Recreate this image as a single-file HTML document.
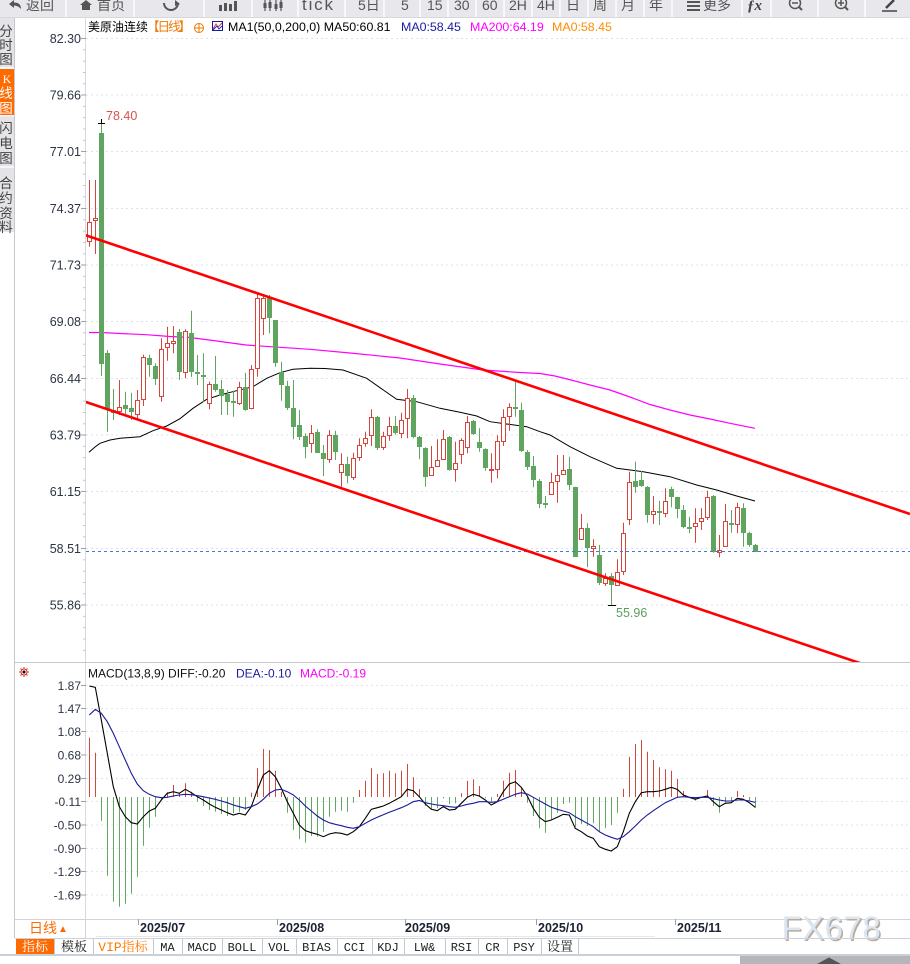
<!DOCTYPE html>
<html><head><meta charset="utf-8">
<style>
html,body{margin:0;padding:0;background:#fff;width:910px;height:964px;overflow:hidden}
svg{display:block}
text{font-family:"Liberation Sans","Noto Sans CJK SC",sans-serif}
.tb{font-size:14px;fill:#555}
.yl{font-size:12.5px;fill:#2c3444;text-anchor:end}
.ml{font-size:12px;fill:#2c3444;text-anchor:end}
.sb{font-size:13.5px;fill:#444;text-anchor:middle}
.dt{font-size:12.5px;font-weight:bold;fill:#1c2233}
.tab{font-family:"Liberation Mono","Noto Serif CJK SC",monospace;font-size:12px;fill:#222;text-anchor:middle}
</style></head>
<body>
<svg id="s" width="910" height="964" viewBox="0 0 910 964" xmlns="http://www.w3.org/2000/svg">
<defs><clipPath id="mc"><rect x="86" y="17" width="824" height="645"/></clipPath></defs>
<rect width="910" height="964" fill="#fff"/>

<!-- toolbar -->
<rect x="0" y="0" width="910" height="17" fill="#e8e8ec"/>
<line x1="0" y1="17.5" x2="910" y2="17.5" stroke="#d8d8dc"/>
<g fill="#f8f8fa">
<rect x="65" y="0" width="2" height="17"/><rect x="133" y="0" width="2" height="17"/><rect x="203" y="0" width="2" height="17"/><rect x="251" y="0" width="2" height="17"/><rect x="297" y="0" width="2" height="17"/><rect x="344" y="0" width="2" height="17"/><rect x="383" y="0" width="2" height="17"/><rect x="419" y="0" width="2" height="17"/><rect x="447" y="0" width="2" height="17"/><rect x="475" y="0" width="2" height="17"/><rect x="503" y="0" width="2" height="17"/><rect x="531" y="0" width="2" height="17"/><rect x="559" y="0" width="2" height="17"/><rect x="587" y="0" width="2" height="17"/><rect x="615" y="0" width="2" height="17"/><rect x="643" y="0" width="2" height="17"/><rect x="671" y="0" width="2" height="17"/><rect x="741" y="0" width="2" height="17"/><rect x="770" y="0" width="2" height="17"/><rect x="817" y="0" width="2" height="17"/><rect x="864" y="0" width="2" height="17"/>
</g>
<!-- toolbar icons -->
<path d="M9 4 L14 0 L14 2.5 Q21 2.5 21 9 Q18 5.5 14 5.5 L14 8 Z" fill="#555"/>
<path d="M80 5 L86 0 L92 5 L90 5 L90 10 L82 10 L82 5 Z" fill="#555"/>
<path d="M164 3 A7 7 0 1 0 178 3" fill="none" stroke="#555" stroke-width="2"/>
<path d="M175 0 L180 4 L175 6 Z" fill="#555"/>
<g fill="#555"><rect x="219" y="5" width="3" height="6"/><rect x="224" y="3" width="3" height="8"/><rect x="229" y="4" width="3" height="7"/><rect x="234" y="1" width="3" height="10"/></g>
<g stroke="#555" stroke-width="1.2"><line x1="265" y1="0" x2="265" y2="11"/><line x1="270" y1="0" x2="270" y2="11"/><line x1="276" y1="0" x2="276" y2="11"/><line x1="281" y1="0" x2="281" y2="11"/></g>
<g fill="#555"><rect x="263.5" y="3" width="3" height="5"/><rect x="268.5" y="2" width="3" height="6"/><rect x="274.5" y="4" width="3" height="5"/><rect x="279.5" y="2" width="3" height="6"/></g>
<text class="tb" x="26" y="10">返回</text>
<text class="tb" x="97" y="10">首页</text>
<text class="tb" x="302" y="10" style="font-size:17px" textLength="31">tick</text>
<text class="tb" x="358" y="10">5日</text>
<text class="tb" x="401" y="10">5</text>
<text class="tb" x="427" y="10">15</text>
<text class="tb" x="454" y="10">30</text>
<text class="tb" x="482" y="10">60</text>
<text class="tb" x="509" y="10">2H</text>
<text class="tb" x="537" y="10">4H</text>
<text class="tb" x="566" y="10">日</text>
<text class="tb" x="593" y="10">周</text>
<text class="tb" x="621" y="10">月</text>
<text class="tb" x="649" y="10">年</text>
<g fill="#555"><rect x="687" y="1" width="13" height="2"/><rect x="687" y="5" width="13" height="2"/><rect x="687" y="9" width="13" height="2"/></g>
<text class="tb" x="703" y="10">更多</text>
<text x="747" y="10" style="font-size:15px;font-weight:bold;font-style:italic;fill:#444;font-family:'Liberation Serif',serif">ƒx</text>
<circle cx="795" cy="3" r="5.5" fill="none" stroke="#555" stroke-width="1.5"/><line x1="792" y1="3" x2="798" y2="3" stroke="#555" stroke-width="1.5"/><line x1="799" y1="7" x2="802" y2="10" stroke="#555" stroke-width="2"/>
<circle cx="841" cy="3" r="5.5" fill="none" stroke="#555" stroke-width="1.5"/><line x1="838" y1="3" x2="844" y2="3" stroke="#555" stroke-width="1.5"/><line x1="841" y1="0" x2="841" y2="6" stroke="#555" stroke-width="1.5"/><line x1="845" y1="7" x2="848" y2="10" stroke="#555" stroke-width="2"/>
<line x1="886" y1="8" x2="894" y2="0" stroke="#444" stroke-width="2.5"/><line x1="882" y1="11" x2="897" y2="11" stroke="#444" stroke-width="1.5"/>

<!-- left sidebar -->
<rect x="0" y="18" width="14" height="214" fill="#e4e4e8"/>
<rect x="0" y="69" width="14" height="46" fill="#ff6a00"/>
<g fill="#f6f6f8"><rect x="0" y="67" width="14" height="2"/><rect x="0" y="115" width="14" height="1.5"/><rect x="0" y="166" width="14" height="2"/></g>
<line x1="14.5" y1="18" x2="14.5" y2="938" stroke="#c8c8cc"/>
<text class="sb" x="6" y="36">分</text><text class="sb" x="6" y="50">时</text><text class="sb" x="6" y="64">图</text>
<text class="sb" x="7" y="83" style="fill:#fff;font-family:'Liberation Serif',serif;font-size:12px">K</text><text class="sb" x="6" y="98" style="fill:#fff">线</text><text class="sb" x="6" y="113" style="fill:#fff">图</text>
<text class="sb" x="6" y="133">闪</text><text class="sb" x="6" y="148">电</text><text class="sb" x="6" y="163">图</text>
<text class="sb" x="6" y="188">合</text><text class="sb" x="6" y="203">约</text><text class="sb" x="6" y="218">资</text><text class="sb" x="6" y="232">料</text>

<!-- axis line -->
<line x1="85.5" y1="18" x2="85.5" y2="919" stroke="#d6dae2"/>

<!-- main grid -->
<g stroke="#dfe1e8" stroke-dasharray="2,3">
<line x1="86" y1="38.5" x2="910" y2="38.5"/><line x1="86" y1="95" x2="910" y2="95"/><line x1="86" y1="151.5" x2="910" y2="151.5"/><line x1="86" y1="208.5" x2="910" y2="208.5"/><line x1="86" y1="265" x2="910" y2="265"/><line x1="86" y1="321.5" x2="910" y2="321.5"/><line x1="86" y1="378.5" x2="910" y2="378.5"/><line x1="86" y1="435" x2="910" y2="435"/><line x1="86" y1="491.5" x2="910" y2="491.5"/><line x1="86" y1="548.5" x2="910" y2="548.5"/><line x1="86" y1="605" x2="910" y2="605"/>
</g>
<g id="ticks" stroke="#9aa0ac"></g>
<g>
<text class="yl" x="81" y="43">82.30</text><text class="yl" x="81" y="99.5">79.66</text><text class="yl" x="81" y="156">77.01</text><text class="yl" x="81" y="213">74.37</text><text class="yl" x="81" y="269.5">71.73</text><text class="yl" x="81" y="326">69.08</text><text class="yl" x="81" y="383">66.44</text><text class="yl" x="81" y="439.5">63.79</text><text class="yl" x="81" y="496">61.15</text><text class="yl" x="81" y="553">58.51</text><text class="yl" x="81" y="609.5">55.86</text>
</g>

<!-- header -->
<text x="88" y="31" style="font-size:12px;fill:#000">美原油连续</text>
<text x="147" y="31" style="font-size:12.5px;fill:#f07800" textLength="44">【日线】</text>
<circle cx="199" cy="28" r="4.5" fill="none" stroke="#f07800"/><line x1="194.5" y1="28" x2="203.5" y2="28" stroke="#f07800"/><line x1="199" y1="23.5" x2="199" y2="32.5" stroke="#f07800"/>
<rect x="212.5" y="21.5" width="10" height="9" fill="#fff" stroke="#1a1aa0"/><path d="M213 29 L216 24 L218 27 L222 23" fill="none" stroke="#e03030"/><path d="M213 30 L217 26 L219 29 L222 26" fill="none" stroke="#2030c0"/>
<text x="228" y="31" style="font-size:12.4px;fill:#000">MA1(50,0,200,0)  MA50:60.81</text>
<text x="401" y="31" style="font-size:12.4px;fill:#1a1aa0">MA0:58.45</text>
<text x="470" y="31" style="font-size:12.4px;fill:#ff00ff">MA200:64.19</text>
<text x="552" y="31" style="font-size:12.4px;fill:#ff8c00">MA0:58.45</text>

<g clip-path="url(#mc)">
<polyline fill="none" stroke="#ff00ff" stroke-width="1.2" points="89,332.5 101,332.5 120,333.5 146,334.7 170,336.5 190,337.5 213,340.5 246,345 280,347.3 310,349.3 350,353 400,358 440,364 483,370 520,372.5 540,373.5 555,376 571,380 590,385 610,390 630,397 650,404.5 670,410 690,415 710,419 730,423.3 755,428.3"/>
<polyline fill="none" stroke="#000" stroke-width="1" points="89,452.3 95,447 100,443.3 110,440 120,438.3 140,436.7 153,430.7 166.7,426 180,418.7 193,408.3 206.7,399.3 220,395 236.7,390.7 253,386.7 266.7,378.3 280,372.7 293,369.3 310,368.3 325,368.5 343,370 366.7,378.3 383.3,390 396.7,399.3 416.7,401.7 440,408.3 460,412.3 476.7,416 490,421.7 506.7,424 526.7,426.7 540,431.7 550,435 570,446.7 590,456.7 616.7,468.3 643.3,471.7 670,476.7 696.7,485 716.7,490 736.7,496 755,501"/>
<g id="cand"></g>
<line x1="86" y1="551.5" x2="910" y2="551.5" stroke="#3b7dd8" stroke-dasharray="3,3"/>
<line x1="85" y1="235" x2="910" y2="514" stroke="#ff0000" stroke-width="2.6"/>
<line x1="85" y1="401.7" x2="870" y2="666.5" stroke="#ff0000" stroke-width="2.6"/>
</g>
<line x1="98" y1="123.5" x2="105" y2="123.5" stroke="#000"/><line x1="101.5" y1="119" x2="101.5" y2="124" stroke="#000"/>
<line x1="608" y1="605.5" x2="616" y2="605.5" stroke="#000"/>
<text x="106" y="120" style="font-size:12.5px;fill:#d9534f">78.40</text>
<text x="616" y="617" style="font-size:12.5px;fill:#5a9e5a">55.96</text>

<!-- MACD pane -->
<line x1="15" y1="662.5" x2="910" y2="662.5" stroke="#c8c8cc"/>
<g stroke="#e03020" stroke-width="1"><line x1="19" y1="672" x2="29" y2="672"/><line x1="24" y1="667" x2="24" y2="677"/><line x1="20.5" y1="668.5" x2="27.5" y2="675.5"/><line x1="27.5" y1="668.5" x2="20.5" y2="675.5"/></g>
<circle cx="24" cy="672" r="3" fill="#fff" stroke="#e03020"/><circle cx="24" cy="672" r="1.5" fill="#000"/>
<text x="88" y="677.5" style="font-size:12px;fill:#111">MACD(13,8,9) DIFF:-0.20</text>
<text x="236" y="677.5" style="font-size:12px;fill:#1a1aa0">DEA:-0.10</text>
<text x="300" y="677.5" style="font-size:12px;fill:#ff00ff">MACD:-0.19</text>
<g stroke="#e3e5ea" stroke-dasharray="2,3">
<line x1="86" y1="685.5" x2="910" y2="685.5"/><line x1="86" y1="708.5" x2="910" y2="708.5"/><line x1="86" y1="731.5" x2="910" y2="731.5"/><line x1="86" y1="755" x2="910" y2="755"/><line x1="86" y1="778.5" x2="910" y2="778.5"/><line x1="86" y1="801.5" x2="910" y2="801.5"/><line x1="86" y1="825" x2="910" y2="825"/><line x1="86" y1="848.5" x2="910" y2="848.5"/><line x1="86" y1="871.5" x2="910" y2="871.5"/><line x1="86" y1="895" x2="910" y2="895"/>
</g>
<g>
<text class="ml" x="81" y="690">1.87</text><text class="ml" x="81" y="713">1.47</text><text class="ml" x="81" y="736">1.08</text><text class="ml" x="81" y="759.5">0.68</text><text class="ml" x="81" y="783">0.29</text><text class="ml" x="81" y="806">-0.11</text><text class="ml" x="81" y="829.5">-0.50</text><text class="ml" x="81" y="853">-0.90</text><text class="ml" x="81" y="876">-1.29</text><text class="ml" x="81" y="899.5">-1.69</text>
</g>
<g id="hist"></g>
<polyline fill="none" stroke="#000" stroke-width="1.1" points="89.3,686 95.3,687.3 101.3,720 107.3,753.3 113.3,786.7 119.3,806.7 125.3,816.7 131.3,822.7 137.3,824 143.3,816.7 149.3,811 155.3,808.3 161.3,800 167.3,793.3 173.3,791.7 179.3,793.3 185.3,789.3 191.3,792.7 197.3,796.7 203.3,800 209.3,804 215.3,807.3 221.3,810 227.3,812.7 233.3,815 239.3,813.3 245.3,815 251.3,806.7 257.3,790 263.3,775 269.3,770.7 275.3,776.7 281.3,788.3 287.3,801.7 293.3,813.3 299.3,825 305.3,830.7 311.3,832.7 317.3,834.3 323.3,836.7 329.3,834 335.3,832.7 341.3,833.3 347.3,835 353.3,831.7 359.3,826.7 365.3,818.3 371.3,809.3 377.3,807.7 383.3,806 389.3,803.3 395.3,800 401.3,796.7 407.3,789.3 413.3,790.7 419.3,796.7 425.3,804 431.3,809.3 437.3,810.7 443.3,806.7 449.3,810 455.3,809.3 461.3,803.3 467.3,797.3 473.3,794.3 479.3,796 485.3,800 491.3,805 497.3,801.7 503.3,791.7 509.3,784 515.3,781.7 521.3,787.3 527.3,796 533.3,808.3 539.3,817.3 545.3,821.7 551.3,820 557.3,817.3 563.3,814.3 569.3,815 575.3,828.3 581.3,831.7 587.3,836 593.3,838.3 599.3,846.7 605.3,849.3 611.3,851 617.3,846.7 623.3,831.7 629.3,813.3 635.3,801.7 641.3,792.7 647.3,791.7 653.3,791.7 659.3,791 665.3,789.3 671.3,787.3 677.3,789.3 683.3,795 689.3,797.3 695.3,799.3 701.3,797.3 707.3,796 713.3,801.7 719.3,806.7 725.3,803.3 731.3,802.7 737.3,798.3 743.3,799.3 749.3,802.7 755.3,807.3"/>
<polyline fill="none" stroke="#1a1a9c" stroke-width="1.1" points="89.3,715 95.3,709.3 101.3,713.3 107.3,721.7 113.3,733.3 119.3,746.7 125.3,760 131.3,773.3 137.3,784 143.3,790.7 149.3,794.3 155.3,796.7 161.3,797.7 167.3,797.3 173.3,796 179.3,795 185.3,794.3 191.3,794.7 197.3,795.7 203.3,796.7 209.3,798 215.3,799.3 221.3,801 227.3,802.7 233.3,805 239.3,806.7 245.3,808.3 251.3,806.7 257.3,804 263.3,799.3 269.3,793.3 275.3,790 281.3,789.3 287.3,791.7 293.3,795 299.3,800 305.3,806 311.3,811 317.3,816 323.3,820 329.3,822.7 335.3,824.3 341.3,825.7 347.3,827.3 353.3,828.3 359.3,826.7 365.3,823.3 371.3,820 377.3,817.3 383.3,814.7 389.3,812.3 395.3,810 401.3,807.7 407.3,805 413.3,801.7 419.3,800.5 425.3,802.7 431.3,804 437.3,805 443.3,805.7 449.3,806.7 455.3,807.3 461.3,806 467.3,804.3 473.3,803.3 479.3,801.7 485.3,801.7 491.3,802.3 497.3,801.7 503.3,799.3 509.3,796.7 515.3,794.3 521.3,792.7 527.3,794 533.3,797.3 539.3,800.7 545.3,804 551.3,807.3 557.3,809.3 563.3,811 569.3,812.7 575.3,816.7 581.3,820 587.3,823.3 593.3,826.7 599.3,831.7 605.3,835 611.3,837.3 617.3,839.3 623.3,836.7 629.3,831.7 635.3,826 641.3,820 647.3,815 653.3,810.7 659.3,806.7 665.3,802.7 671.3,800 677.3,797.3 683.3,796.7 689.3,797.3 695.3,797.7 701.3,797.3 707.3,797.3 713.3,798.7 719.3,800 725.3,801 731.3,801 737.3,800 743.3,800 749.3,801 755.3,802.3"/>

<!-- date row -->
<line x1="15" y1="919.5" x2="910" y2="919.5" stroke="#d0d4da"/>
<line x1="85.5" y1="919" x2="85.5" y2="938" stroke="#d0d4da"/>
<line x1="96" y1="936.5" x2="655" y2="936.5" stroke="#e6e8ec"/>
<g stroke="#9aa0aa"><line x1="138.5" y1="919" x2="138.5" y2="925"/><line x1="277.5" y1="919" x2="277.5" y2="925"/><line x1="405.5" y1="919" x2="405.5" y2="925"/><line x1="536.5" y1="919" x2="536.5" y2="925"/><line x1="675.5" y1="919" x2="675.5" y2="925"/></g>
<text x="29" y="933" style="font-size:14px;fill:#ff6a00">日线</text>
<text x="58" y="932" style="font-size:10px;fill:#ff6a00">▲</text>
<text class="dt" x="140" y="932">2025/07</text>
<text class="dt" x="279" y="932">2025/08</text>
<text class="dt" x="405" y="932">2025/09</text>
<text class="dt" x="538" y="932">2025/10</text>
<text class="dt" x="677" y="932">2025/11</text>
<text x="783" y="941" style="font-size:33px;fill:#b9aa9c;letter-spacing:0.5px">FX678</text>
<text x="781.5" y="939.5" style="font-size:33px;fill:#dbe6f3;letter-spacing:0.5px">FX678</text>

<!-- tab row -->
<line x1="15" y1="938.5" x2="910" y2="938.5" stroke="#ccd2da"/>
<rect x="16" y="939" width="38" height="15" fill="#ff6a00"/>
<g stroke="#c8c8cc"><line x1="54.5" y1="939" x2="54.5" y2="954"/><line x1="93.5" y1="939" x2="93.5" y2="954"/><line x1="153.5" y1="939" x2="153.5" y2="954"/><line x1="182.5" y1="939" x2="182.5" y2="954"/><line x1="222.5" y1="939" x2="222.5" y2="954"/><line x1="262.5" y1="939" x2="262.5" y2="954"/><line x1="296.5" y1="939" x2="296.5" y2="954"/><line x1="337.5" y1="939" x2="337.5" y2="954"/><line x1="372.5" y1="939" x2="372.5" y2="954"/><line x1="404.5" y1="939" x2="404.5" y2="954"/><line x1="445.5" y1="939" x2="445.5" y2="954"/><line x1="478.5" y1="939" x2="478.5" y2="954"/><line x1="507.5" y1="939" x2="507.5" y2="954"/><line x1="541.5" y1="939" x2="541.5" y2="954"/><line x1="578.5" y1="939" x2="578.5" y2="954"/></g>
<text class="tab" x="35" y="951" style="fill:#fff;font-size:13px">指标</text>
<text class="tab" x="74" y="951" style="font-size:13px">模板</text>
<text class="tab" x="123" y="951" style="fill:#ff7a00;font-size:13px">VIP指标</text>
<text class="tab" x="167.5" y="951">MA</text>
<text class="tab" x="202" y="951">MACD</text>
<text class="tab" x="242" y="951">BOLL</text>
<text class="tab" x="279" y="951">VOL</text>
<text class="tab" x="316.5" y="951">BIAS</text>
<text class="tab" x="354.5" y="951">CCI</text>
<text class="tab" x="388" y="951">KDJ</text>
<text class="tab" x="424.5" y="951">LW&amp;</text>
<text class="tab" x="461.5" y="951">RSI</text>
<text class="tab" x="492.5" y="951">CR</text>
<text class="tab" x="524" y="951">PSY</text>
<text class="tab" x="560" y="951" style="font-size:13px">设置</text>
<rect x="0" y="954" width="910" height="2" fill="#c8d0da"/>
<rect x="740" y="956" width="170" height="8" fill="#b6b6ba"/>
<path d="M817 964 L829 957.5 L841 964 Z" fill="#555"/>
</svg>
<script>
(function(){
var NS='http://www.w3.org/2000/svg';
var C=[[1,221.7,240.7,180,246.7],[1,217.7,220.3,180,254],[0,132.7,364,123,376],[0,353,410,350,431.7],[0,410,413,389,420],[1,407.3,411.3,380,415],[0,405,409.3,391.7,415],[0,408,411.7,392.7,420],[1,400.3,414.3,390,420],[1,357.3,399.3,354.7,406],
[0,358,364.7,354.7,376.7],[0,366,379.3,363.3,385],[1,349.3,396.3,338.3,401.7],[1,343.3,347.3,326.7,360.7],[1,341.3,342.7,326,353.3],[0,331.7,371.7,329,380],[1,331,371.7,329.3,378.3],[0,332.7,371.7,310.7,377],[0,372.3,373.7,355,385],[0,375,376.7,353.3,401.7],
[1,384,403.3,381.7,409.3],[0,384,390,356,391.7],[0,389.3,396,380,415],[0,394.3,401.7,390,415],[0,401,402.7,390.7,416.7],[1,387.3,402.7,381.7,405],[0,387.3,410,372.7,410.7],[1,369.3,407.7,365,409.3],[1,298.3,367.7,293.3,376.7],[1,298.3,318.3,295,335],
[0,296.7,317.7,295,333.3],[0,320,362.7,320,366.7],[0,371.7,385,361.7,400.7],[0,386,408.3,380.7,410],[0,408.3,426.7,380,439.3],[0,425,436.7,410,440],[0,436,446.7,433.3,458.3],[1,433.3,443.3,425,452.7],[0,432,452.7,429.3,452.7],[0,453.3,459.3,445,476],
[1,435.3,459.3,430,462.7],[0,435.3,451.7,430.7,460],[1,464.3,471.7,453.3,486.7],[0,464.3,476,456.7,483.3],[1,458.3,476.7,452.7,480],[1,444.7,457.3,438.3,460.7],[1,438.3,443.3,431.7,446.7],[1,417.3,435.3,409.3,446],[0,416.7,448.3,416,450],[1,436,447.3,431.7,450],
[1,426,435.3,416.7,440.7],[0,426,433.3,416,434.7],[1,420,433.3,412.7,438.3],[1,398.3,418.3,389,438.3],[0,398.3,437.3,395,438.3],[0,437.3,446.7,436,459.3],[0,448.3,476.7,447.3,486.7],[1,466.7,475.3,446,476],[1,460,466,439.3,466.7],[1,439.3,459.3,430,460],
[0,437.3,470,436,470.7],[1,463.3,469.3,441.7,481.7],[1,440,454,438.3,464],[1,421.7,447.3,416,453.3],[0,420.7,434,420,435],[0,442,448,428.3,451.7],[0,449.3,468.3,448.3,470.7],[1,469,469.7,453.3,482.7],[1,441.3,468.7,435.3,478.3],[1,416.7,440.7,409.3,446],
[1,407.3,415.7,403.3,430.7],[0,406.5,407.5,381.7,416.7],[0,410,450.7,402.7,452],[0,452,466.7,450,470],[0,466,480,456,487.3],[0,480.7,504,479,508.3],[0,503.3,504.7,496,508.3],[1,482,494.3,472.7,495],[1,475.3,481.3,455,502.7],[1,470,474,455,474.3],
[0,469.3,485.3,456.7,490],[0,487.3,556.7,486.7,556.7],[1,528.3,539.3,514,540],[0,528.3,548.3,523.3,567.3],[1,546,548.3,539.3,556.7],[0,555,583.3,545,585],[1,578.3,582.7,573.3,586],[0,576,584.7,573.3,605],[1,571.7,585,559.3,586],[1,532.7,570.7,522.7,575],
[1,481.7,519.3,471.7,525],[0,480.7,487.3,461.7,492.7],[0,480,486,470.7,487],[0,487.3,515,486,522.7],[1,511,514.3,496,524],[0,511,512.7,500.7,525],[1,500.7,512.7,488.3,517.3],[0,489.3,496.7,486.7,507.3],[0,497.3,509.3,496.7,518.3],[0,510,526.7,505,528.3],
[0,526.7,529.3,516.7,533.3],[1,522.7,526,508.3,542.7],[1,518.3,521,508.3,530],[1,497.3,516.7,490.7,520],[0,496,551.7,495,552.7],[1,550,551.7,535,557.3],[1,520.7,546,504,546.7],[0,523.3,524.7,510,532.7],[1,507.3,524,502.7,533.3],[0,508,532.7,503.3,546.7],
[0,532.7,545.3,531.7,546.7],[0,545,551.7,544,551.7]];
var H=[737.7,752.7,820.7,875.7,901.7,906.7,903.7,893.7,876.7,845.7,827.7,816.7,800,792.3,785,793.3,783.3,791.7,801.7,806,810,811.7,814,816,813.3,811.7,810,792.7,768,749,750,770.7,791.7,812.7,830,839.3,842.7,836,836.7,831.7,816.7,811.7,810.7,811.7,802.7,790,780.7,768.3,774,773.3,770.7,773.3,770.7,764,777.3,789,806,809.3,808.3,798.3,804,803.3,793.3,780.7,779.3,786,798,801.7,794,780.7,772.7,770,787.7,802.7,816,828.3,832.7,819.3,812.7,804,802.7,826.7,824,826,823.3,831.7,828.3,825,812.7,788.7,756.7,744,740,751.7,760,767.3,769.3,770.7,779,791,798.3,800.7,797.3,790,806,812.7,802.7,800.7,791,795,800.7,807.7];
function el(p,n,a){var e=document.createElementNS(NS,n);for(var k in a)e.setAttribute(k,a[k]);p.appendChild(e);return e;}
var g=document.getElementById('cand');
var RED='#d6453d',GRN='#5fa55f';
C.forEach(function(c,i){
 var x=89.5+6*i,col=c[0]?RED:GRN;
 el(g,'line',{x1:x,y1:c[3],x2:x,y2:c[4],stroke:col,'stroke-width':1});
 var t=Math.round(c[1]),b=Math.round(c[2]);
 if(c[0]){var h=Math.max(b-t,1);el(g,'rect',{x:x-2,y:t+0.5,width:4,height:h,fill:'#fff',stroke:col,'stroke-width':1});}
 else{var h2=Math.max(b-t,2);el(g,'rect',{x:x-2.5,y:t,width:5,height:h2,fill:col});}
});
var hg=document.getElementById('hist');
H.forEach(function(v,i){var x=89.5+6*i;el(hg,'line',{x1:x,y1:797,x2:x,y2:v,stroke:v<797?'#d04a3c':'#62a862','stroke-width':1});});
var tg=document.getElementById('ticks');
var ys=[38.5,95,151.5,208.5,265,321.5,378.5,435,491.5,548.5,605];
for(var k=0;k<ys.length;k++){el(tg,'line',{x1:81,y1:ys[k],x2:86,y2:ys[k]});
 for(var m=1;m<5;m++){var yy=ys[k]+m*11.33;if(yy<660)el(tg,'line',{x1:83,y1:yy,x2:86,y2:yy,stroke:'#c4c8d0'});}}
var my=[685.5,708.5,731.5,755,778.5,801.5,825,848.5,871.5,895];
for(var j=0;j<my.length;j++){el(tg,'line',{x1:81,y1:my[j],x2:86,y2:my[j]});}
})();
</script>
</body></html>
